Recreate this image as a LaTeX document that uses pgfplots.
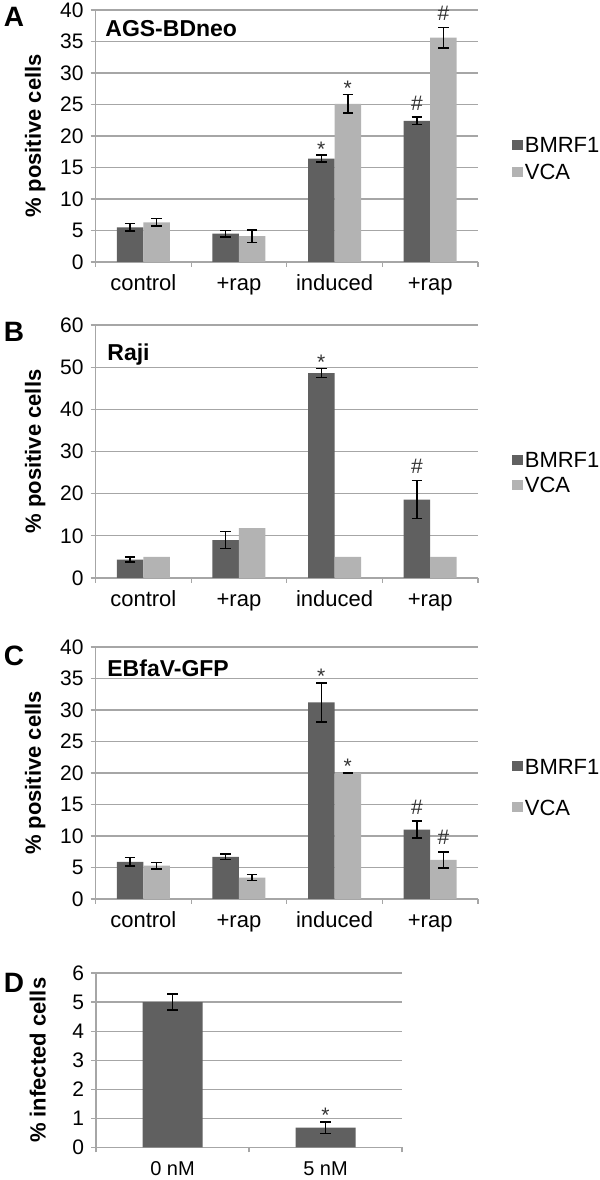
\documentclass[border=0pt]{standalone}
\usepackage{fontspec}
\setmainfont{Liberation Sans}
\usepackage{pgfplots}
\usepackage{pgfplotstable}
\pgfplotsset{compat=1.18}
\definecolor{bmrf}{HTML}{606060}
\definecolor{vca}{HTML}{B3B3B3}
\definecolor{gridc}{HTML}{A6A6A6}
\definecolor{annc}{HTML}{333333}
\newcommand{\sig}{\raisebox{-4pt}{*}}
\newcommand{\tf}{\fontsize{10.5}{12}\selectfont}

\pgfplotstableread{
x b be v ve
1 5.5 0.6 6.3 0.6
2 4.5 0.5 4.1 1.0
3 16.4 0.55 25.1 1.45
4 22.4 0.6 35.6 1.6
}\dataA
\pgfplotstableread{
x b be v
1 4.35 0.6 5.0
2 9.0 2.0 11.8
3 48.6 1.05 5.0
4 18.6 4.5 5.0
}\dataB
\pgfplotstableread{
x b be v ve
1 5.9 0.7 5.3 0.5
2 6.7 0.45 3.4 0.45
3 31.2 3.1 20.0 0.1
4 11.0 1.35 6.2 1.3
}\dataC
\pgfplotstableread{
x b be
1 5.0 0.28
2 0.68 0.2
}\dataD

\pgfplotsset{
  panel/.style={
    scale only axis,
    anchor=south west,
    /pgf/number format/assume math mode=true,
    axis x line*=bottom,
    axis y line*=left,
    axis line style={gridc, line width=0.6pt, -},
    ymajorgrids,
    grid style={gridc, line width=0.6pt},
    tick align=outside,
    major tick length=2.5pt,
    tick style={gridc, line width=0.6pt},
    ymin=0,
    xmin=0.5, xmax=4.5,
    xtick={0.5,1.5,2.5,3.5,4.5},
    xticklabels={},
    extra x ticks={1,2,3,4},
    extra x tick labels={control,+rap,induced,+rap},
    extra x tick style={tick style={draw=none}},
    yticklabel style={font=\tf},
    xticklabel style={font=\fontsize{11}{13}\selectfont, text height=8pt, text depth=2.5pt},
    every axis y label/.style={at={(axis description cs:-0.158,0.5)}, rotate=90, anchor=center, font=\fontsize{11}{13}\selectfont\bfseries},
    legend style={draw=none, fill=none, anchor=west, inner sep=0pt, font=\fontsize{11}{13}\selectfont,
      nodes={inner sep=1pt, text height=8pt, text depth=0pt}},
    legend cell align=left,
  },
  sq/.style={legend image code/.code={\fill[##1, draw=none] (0pt,-2.6pt) rectangle (5.2pt,2.6pt);}},
  errs/.style={/pgfplots/error bars/y dir=both, /pgfplots/error bars/y explicit,
    /pgfplots/error bars/error bar style={black, line width=0.75pt},
    /pgfplots/error bars/error mark options={black, rotate=90, mark size=2.6pt, line width=0.75pt}},
  ann/.style={forget plot, draw=none, mark=none, nodes near coords, point meta=explicit symbolic,
    every node near coord/.append style={font=\tf, text=annc, anchor=base, inner sep=0pt, yshift=3.5pt}},
  bars/.style={ybar, bar width=13.25pt, bar shift=0pt, draw=none},
}

\begin{document}
\begin{tikzpicture}
\useasboundingbox (0,0) rectangle (300pt,590pt);

% Panel A
\begin{axis}[panel, at={(47.75pt,459pt)}, width=191.25pt, height=126pt,
  ymax=40, ytick={0,5,...,40}, ylabel={\% positive cells},
  legend style={at={(1.089,0.411)}, row sep=3.5pt}]
\addplot[bars, fill=bmrf, sq, errs]
  table[x expr=\thisrow{x}-0.1386, y=b, y error=be] {\dataA};
\addlegendentry{BMRF1}
\addplot[bars, fill=vca, sq, errs]
  table[x expr=\thisrow{x}+0.1386, y=v, y error=ve] {\dataA};
\addlegendentry{VCA}
\addplot[ann] coordinates {(2.8614,16.95) [\sig] (3.8614,23.0) [\#] (3.1386,26.55) [\sig] (4.1386,37.2) [\#]};
\end{axis}

% Panel B
\begin{axis}[panel, at={(47.75pt,301pt)}, width=191.25pt, height=126.5pt,
  ymax=60, ytick={0,10,...,60}, ylabel={\% positive cells},
  legend style={at={(1.089,0.417)}, row sep=2.5pt}]
\addplot[bars, fill=bmrf, sq, errs]
  table[x expr=\thisrow{x}-0.1386, y=b, y error=be] {\dataB};
\addlegendentry{BMRF1}
\addplot[bars, fill=vca, sq]
  table[x expr=\thisrow{x}+0.1386, y=v] {\dataB};
\addlegendentry{VCA}
\addplot[ann] coordinates {(2.8614,49.65) [\sig] (3.8614,23.1) [\#]};
\end{axis}

% Panel C
\begin{axis}[panel, at={(47.75pt,140.5pt)}, width=191.25pt, height=126pt,
  ymax=40, ytick={0,5,...,40}, ylabel={\% positive cells},
  legend style={at={(1.089,0.446)}, row sep=10.5pt}]
\addplot[bars, fill=bmrf, sq, errs]
  table[x expr=\thisrow{x}-0.1386, y=b, y error=be] {\dataC};
\addlegendentry{BMRF1}
\addplot[bars, fill=vca, sq, errs]
  table[x expr=\thisrow{x}+0.1386, y=v, y error=ve] {\dataC};
\addlegendentry{VCA}
\addplot[ann] coordinates {(2.8614,34.3) [\sig] (3.8614,12.35) [\#] (3.1386,20.1) [\sig] (4.1386,7.5) [\#]};
\end{axis}

% Panel D
\begin{axis}[panel, at={(48pt,16.25pt)}, width=153pt, height=87.25pt,
  xmin=0.5, xmax=2.5, xtick={0.5,1.5,2.5}, extra x ticks={1,2}, extra x tick labels={0 nM,5 nM},
  xticklabel style={font=\fontsize{10}{12}\selectfont},
  ymax=6, ytick={0,1,...,6}, ylabel={\% infected cells},
  every axis y label/.style={at={(axis description cs:-0.19,0.5)}, rotate=90, anchor=center, font=\fontsize{11}{13}\selectfont\bfseries}]
\addplot[ybar, bar width=30pt, bar shift=0pt, draw=none, fill=bmrf, errs]
  table[x=x, y=b, y error=be] {\dataD};
\addplot[ann] coordinates {(2,0.9) [\sig]};
\end{axis}

% panel letters and titles
\node[font=\fontsize{14}{16}\selectfont\bfseries] at (7pt,581.7pt) {A};
\node[font=\fontsize{14}{16}\selectfont\bfseries] at (7pt,424pt) {B};
\node[font=\fontsize{14}{16}\selectfont\bfseries] at (7pt,262pt) {C};
\node[font=\fontsize{14}{16}\selectfont\bfseries] at (7pt,98.75pt) {D};
\node[font=\fontsize{11.5}{13}\selectfont\bfseries, anchor=west, inner sep=0pt] at (52.5pt,575.5pt) {AGS-BDneo};
\node[font=\fontsize{11.5}{13}\selectfont\bfseries, anchor=west, inner sep=0pt] at (53.5pt,412.5pt) {Raji};
\node[font=\fontsize{11.5}{13}\selectfont\bfseries, anchor=west, inner sep=0pt] at (53.5pt,256pt) {EBfaV-GFP};
\end{tikzpicture}
\end{document}
